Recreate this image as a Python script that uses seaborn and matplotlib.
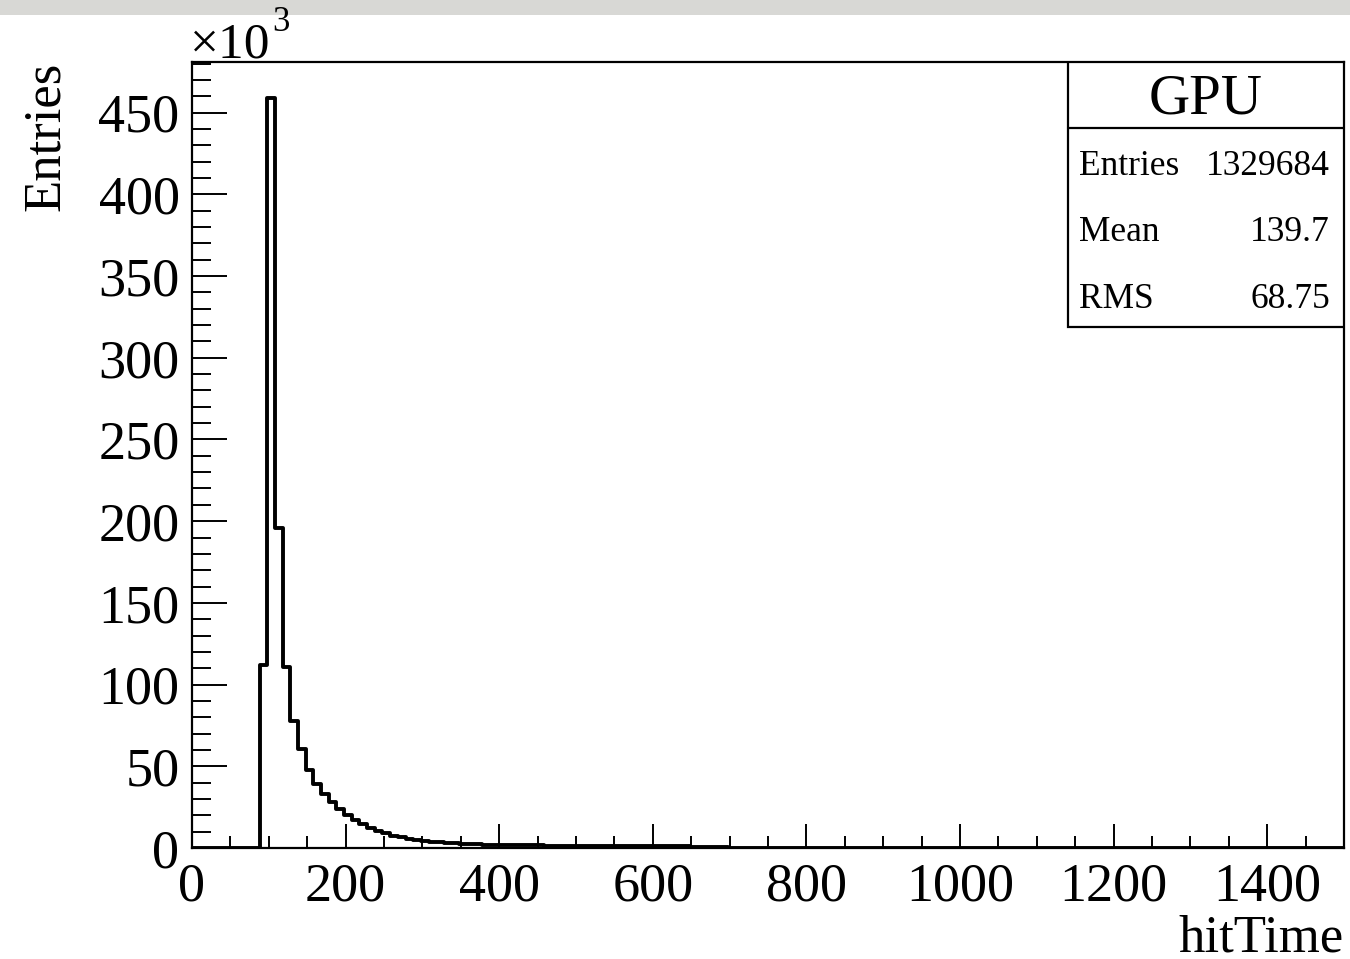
import numpy as np
import pandas as pd
import matplotlib
matplotlib.use("Agg")
import matplotlib.pyplot as plt
from matplotlib.patches import Rectangle
from matplotlib.ticker import MultipleLocator
import seaborn as sns

# bin contents, in units of 10^3 entries, bins 10 wide starting at 88
bin_start = 88
bin_width = 10
counts_k = [112, 459, 196, 111, 78, 60.5, 48, 39, 33, 28, 24, 20, 17, 14.7, 12.2,
            10.4, 9.0, 7.6, 6.7, 5.7, 4.9, 4.3, 3.8, 3.5, 3.2, 2.9, 2.6, 2.4, 2.2, 2.0,
            1.9, 1.8, 1.8, 1.7, 1.7, 1.6, 1.6, 1.5, 1.5, 1.5, 1.4, 1.4, 1.4, 1.3, 1.3,
            1.3, 1.2, 1.2, 1.2, 1.1, 1.1, 1.1, 1.0, 1.0, 1.0, 1.0, 0.9, 0.9, 0.9, 0.9,
            0.8]
x_ticks = [0, 200, 400, 600, 800, 1000, 1200, 1400]
y_ticks = [0, 50, 100, 150, 200, 250, 300, 350, 400, 450]
stats_title = "GPU"
stats_names = ["Entries", "Mean", "RMS"]
stats_values = ["1329684", "139.7", "68.75"]

edges = bin_start + bin_width * np.arange(len(counts_k) + 1)
centers = edges[:-1] + bin_width / 2
# pad with empty bins so the outline runs along zero over the full range
all_edges = [0.0] + [float(e) for e in edges] + [1500.0]
df = pd.DataFrame({"hitTime": centers, "w": counts_k})

sns.set_style("ticks")
plt.rcParams["font.family"] = ["Liberation Serif", "DejaVu Serif"]
for k in ["text.color", "axes.labelcolor", "xtick.color", "ytick.color", "axes.edgecolor"]:
    plt.rcParams[k] = "black"

fig = plt.figure(figsize=(13.5, 9.59), dpi=100)
ax = fig.add_axes([192 / 1350, 1 - 848 / 959, 1152 / 1350, 786 / 959])

sns.histplot(data=df, x="hitTime", weights="w", bins=all_edges, element="step",
             fill=False, color="black", linewidth=2.8, ax=ax)

ax.set_xlim(0, 1500)
ax.set_ylim(0, 481)
ax.set_xticks(x_ticks)
ax.set_yticks(y_ticks)
ax.xaxis.set_minor_locator(MultipleLocator(50))
ax.yaxis.set_minor_locator(MultipleLocator(10))
ax.tick_params(axis="x", which="major", direction="in", length=17, width=1.4,
               labelsize=39, pad=10)
ax.tick_params(axis="x", which="minor", direction="in", length=9, width=1.4)
ax.tick_params(axis="y", which="major", direction="in", length=25, width=1.4,
               labelsize=39, pad=9)
ax.tick_params(axis="y", which="minor", direction="in", length=13.5, width=1.4)
for s in ax.spines.values():
    s.set_linewidth(1.6)

ax.set_xlabel("hitTime", fontsize=38, loc="right")
ax.xaxis.set_label_coords(1.0, -0.085)
ax.set_ylabel("Entries", fontsize=38, loc="top")
ax.yaxis.set_label_coords(-0.106, 1.0)

fig.text(190 / 1350, 1 - 58 / 959, "\u00d710", fontsize=37, ha="left", va="baseline")
fig.text(272 / 1350, 1 - 31 / 959, "3", fontsize=25, ha="left", va="baseline")

# stats box
bx0, by0 = 0.7604, 0.6628
ax.add_patch(Rectangle((bx0, by0), 1 - bx0, 1 - by0, transform=ax.transAxes,
                       facecolor="white", edgecolor="black", linewidth=1.6, zorder=5))
ax.plot([bx0, 1], [0.916, 0.916], transform=ax.transAxes, color="black",
        linewidth=1.6, zorder=6)
ax.text((bx0 + 1) / 2, 0.952, stats_title, transform=ax.transAxes, fontsize=41,
        ha="center", va="center", zorder=7)
row_y = [0.8675, 0.7835, 0.6983]
for name, val, yy in zip(stats_names, stats_values, row_y):
    ax.text(0.770, yy, name, transform=ax.transAxes, fontsize=25.5, ha="left",
            va="center", zorder=7)
    ax.text(0.9878, yy, val, transform=ax.transAxes, fontsize=25.5, ha="right",
            va="center", zorder=7)

# grey strip along the top edge of the screenshot
fig.patches.append(Rectangle((0, 1 - 15 / 959), 1, 15 / 959, transform=fig.transFigure,
                             facecolor="#d8d8d5", edgecolor="none"))

fig.savefig("out.png", dpi=100)
